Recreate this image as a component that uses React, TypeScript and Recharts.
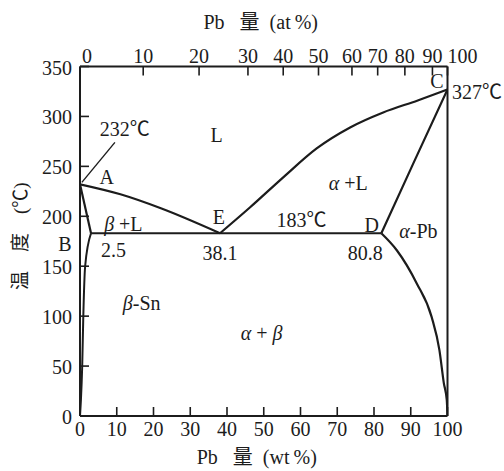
import React from 'react';
import { LineChart, Line, XAxis, YAxis, ReferenceDot, Label } from 'recharts';

const FONT = "'Liberation Serif', 'Noto Sans CJK SC', serif";
const INK = '#1c1c1c';
const TICK_LEN = 9;

// axes
const wtTicks = [0, 10, 20, 30, 40, 50, 60, 70, 80, 90, 100];
const tempTicks = [0, 50, 100, 150, 200, 250, 300, 350];
// at% Pb scale on top, put at the wt% spots where the figure has them
const atLabels = ['0', '10', '20', '30', '40', '50', '60', '70', '80', '90', '100'];
const atPositions = [0, 17.2, 32.4, 45.7, 55.3, 64.9, 74, 81, 88.4, 95.9, 100];

// phase boundaries: [wt% Pb, °C]
const liquidusSn = [[0, 232], [11, 222], [22, 208], [38.1, 183]];
const liquidusPb = [[38.1, 183], [46.3, 209], [55.3, 239], [64.4, 268], [73.5, 289], [82.5, 304], [91.9, 316], [100, 327]];
const solidusSn = [[0, 232], [3, 183]];
const solidusPb = [[82, 183], [90.7, 253], [100, 327]];
const solvusSn = [[0, 0], [0.25, 16], [0.6, 50], [0.9, 100], [1.4, 150], [3, 183]];
const solvusPb = [[82, 183], [86.2, 166], [91.6, 133], [95.7, 99], [97.8, 66], [99, 33], [99.8, 16], [100, 0]];
const eutectic = [[3, 183], [38.1, 183], [82, 183]];
const leader = [[0.5, 234], [9.5, 274]];

// text in the diagram
const noteText = ['232℃', 'A', 'L', 'α +L', 'E', '183℃', 'D', 'α-Pb', 'C', '327℃', 'β +L', 'B', '2.5', '38.1', '80.8', 'β-Sn', 'α + β'];
const noteW = [12.2, 7.3, 37.2, 73, 37.8, 60.3, 79.4, 92.1, 97.1, 108, 11.8, -4.1, 9.1, 38.1, 77.6, 16.8, 49.4];
const noteT = [287.7, 239.3, 281, 233.3, 199.3, 196.7, 191, 185.3, 335.3, 324.3, 192.7, 172.7, 166, 163, 163, 112.7, 82.7];

const pts = (arr: number[][]) => arr.map(([w, t]) => ({ w, t }));

const txt = { fontSize: 20, fill: INK, fontFamily: FONT } as const;

function greek(s: string) {
  return s.split(/([αβ])/).filter(Boolean).map((p, i) => (
    <tspan key={i} fontStyle={/[αβ]/.test(p) ? 'italic' : undefined}>{p}</tspan>
  ));
}

function BottomTick({ x, y, payload }: any) {
  return (
    <g>
      <line x1={x} y1={y} x2={x} y2={y - TICK_LEN} stroke={INK} strokeWidth={1.6} />
      <text x={x} y={y + 13} dy="0.35em" textAnchor="middle" {...txt}>{payload.value}</text>
    </g>
  );
}

function TopTick({ x, y, index }: any) {
  const edge = index === 0 || index === atPositions.length - 1;
  return (
    <g>
      <line x1={x} y1={y} x2={x} y2={y + TICK_LEN} stroke={INK} strokeWidth={1.6} />
      <text x={x + (index === 0 ? 2 : 0)} y={y - 11} dy="0.35em" textAnchor={edge ? 'start' : 'middle'} {...txt}>
        {atLabels[index]}
      </text>
    </g>
  );
}

function LeftTick({ x, y, payload }: any) {
  return (
    <g>
      <line x1={x} y1={y} x2={x + TICK_LEN} y2={y} stroke={INK} strokeWidth={1.6} />
      <text x={x - 8} y={y + 1} dy="0.35em" textAnchor="end" {...txt}>{payload.value}</text>
    </g>
  );
}

const curve = (data: number[][], key: string, width = 2.2, type: any = 'monotone') => (
  <Line
    key={key} data={pts(data)} dataKey="t" type={type} stroke={INK} strokeWidth={width}
    dot={false} activeDot={false} isAnimationActive={false}
  />
);

export default function App() {
  return (
    <div style={{ position: 'absolute', left: 0, top: 0, width: 504, height: 471, background: '#fff' }}>
      <LineChart width={504} height={471} margin={{ top: 0, right: 0, bottom: 0, left: 0 }}>
        <XAxis
          dataKey="w" type="number" domain={[0, 100]} ticks={wtTicks} height={55}
          axisLine={{ stroke: INK, strokeWidth: 2 }} tickLine={false} tickSize={0} tickMargin={0}
          tick={<BottomTick />} interval={0} allowDataOverflow
        >
          <Label
            content={({ viewBox }: any) => (
              <text x={viewBox.x + viewBox.width / 2 - 7} y={viewBox.y + viewBox.height - 7} textAnchor="middle" {...txt}>
                Pb{'\u2002'} 量{'\u2002'}(wt{'\u2009'}%)
              </text>
            )}
          />
        </XAxis>
        <XAxis
          xAxisId="top" orientation="top" dataKey="w" type="number" domain={[0, 100]} ticks={atPositions} height={66.5}
          axisLine={{ stroke: INK, strokeWidth: 2 }} tickLine={false} tickSize={0} tickMargin={0}
          tick={<TopTick />} interval={0} allowDataOverflow
        >
          <Label
            content={({ viewBox }: any) => (
              <text x={viewBox.x + viewBox.width / 2 - 3} y={viewBox.y + 29} textAnchor="middle" {...txt}>
                Pb{'\u2002'} 量{'\u2002'}(at{'\u2009'}%)
              </text>
            )}
          />
        </XAxis>
        <YAxis
          type="number" domain={[0, 350]} ticks={tempTicks} width={80}
          axisLine={{ stroke: INK, strokeWidth: 2 }} tickLine={false} tickSize={0} tickMargin={0}
          tick={<LeftTick />} interval={0} allowDataOverflow
        >
          <Label
            content={({ viewBox }: any) => {
              const cx = 20;
              const cy = viewBox.y + viewBox.height / 2 - 5;
              return (
                <text x={cx} y={cy} dy="0.35em" textAnchor="middle" transform={`rotate(-90 ${cx} ${cy})`} {...txt} fontSize={19}>
                  温{'\u3000'}度{'\u3000'}(℃)
                </text>
              );
            }}
          />
        </YAxis>
        <YAxis
          yAxisId="right" orientation="right" type="number" domain={[0, 350]} width={56.5}
          axisLine={{ stroke: INK, strokeWidth: 2 }} tickLine={false} tick={false}
        />

        {curve(liquidusSn, 'liqSn')}
        {curve(liquidusPb, 'liqPb')}
        {curve(solidusSn, 'solSn', 2.2, 'linear')}
        {curve(solidusPb, 'solPb')}
        {curve(solvusSn, 'svSn', 2)}
        {curve(solvusPb, 'svPb')}
        {curve(eutectic, 'eut', 2.2, 'linear')}
        {curve(leader, 'lead', 1.4, 'linear')}

        {noteText.map((s, i) => (
          <ReferenceDot
            key={s} x={noteW[i]} y={noteT[i]} r={0} ifOverflow="visible"
            shape={(p: any) => (
              <text x={p.cx} y={p.cy} dy="0.35em" textAnchor="middle" {...txt}>{greek(s)}</text>
            )}
          />
        ))}
      </LineChart>
    </div>
  );
}
